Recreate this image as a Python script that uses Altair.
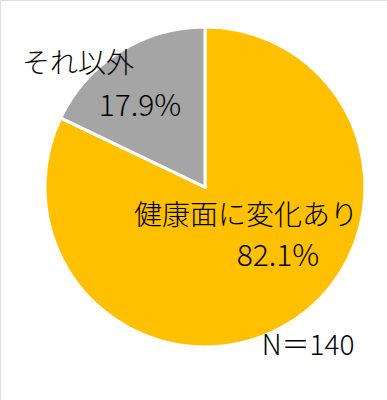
import altair as alt
import pandas as pd

categories = ["健康面に変化あり", "それ以外"]
values = [82.1, 17.9]
colors = ["#FFC000", "#A5A5A5"]
note = "N＝140"

df = pd.DataFrame({
    "category": categories,
    "value": values,
    "order": list(range(len(categories))),
    "pct": [f"{v:.1f}%" for v in values],
})

FONT = "Noto Sans CJK JP"

base = alt.Chart(df)

pie = base.mark_arc(outerRadius=160, stroke="white", strokeWidth=3).encode(
    theta=alt.Theta("value:Q", stack=True),
    order=alt.Order("order:Q"),
    color=alt.Color("category:N", scale=alt.Scale(domain=categories, range=colors), legend=None),
    x=alt.value(205),
    y=alt.value(187),
)

def label(cat, field, x, y, size):
    return base.transform_filter(alt.datum.category == cat).mark_text(
        font=FONT, fontSize=size, fontWeight=300, color="black", align="center", baseline="middle"
    ).encode(text=f"{field}:N", x=alt.value(x), y=alt.value(y))

l1 = label(categories[0], "category", 246, 217, 28)
l2 = label(categories[0], "pct", 278, 257, 30)
l3 = label(categories[1], "category", 78, 65, 28)
l4 = label(categories[1], "pct", 140, 107, 30)

n_label = alt.Chart(pd.DataFrame({"t": [note]})).mark_text(
    font=FONT, fontSize=28, fontWeight=300, color="black", align="center", baseline="middle"
).encode(text="t:N", x=alt.value(308), y=alt.value(347))

chart = alt.layer(pie, l1, l2, l3, l4, n_label).properties(
    width=387, height=400, padding=0, autosize=alt.AutoSizeParams(type="none")
).configure_view(stroke=None).configure(background="white")

chart.save("out.html", embed_options={"renderer": "svg", "actions": False})
